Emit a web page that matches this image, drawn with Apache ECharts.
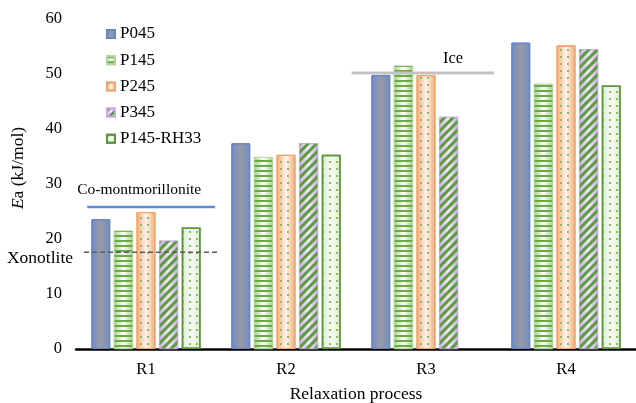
<!DOCTYPE html>
<html><head><meta charset="utf-8">
<script src="https://cdn.jsdelivr.net/npm/echarts@6/dist/echarts.min.js"></script>
<style>html,body{margin:0;padding:0;background:#fff}#c{width:636px;height:403px}</style>
</head><body><div id="c"></div>
<script>
// ---- data ----
const categories = ['R1', 'R2', 'R3', 'R4'];
const seriesNames = ['P045', 'P145', 'P245', 'P345', 'P145-RH33'];
const p045 = [23.6, 37.4, 49.8, 55.7];
const p145 = [21.5, 34.9, 51.5, 48.2];
const p245 = [24.9, 35.3, 49.8, 55.2];
const p345 = [19.7, 37.4, 42.2, 54.5];
const p145rh33 = [22.1, 35.3, null, 47.9];
const yMin = 0, yMax = 60, yStep = 10;
// reference lines: value, start / end in category units (hidden value axis 0..4)
const refNames = ['Co-montmorillonite', 'Xonotlite', 'Ice'];
const refValues = [25.8, 17.6, 50.2];
const refFrom = [0.08, 0.057, 1.969];
const refTo = [0.993, 1.014, 2.986];

const FONT = '"Times New Roman", "Liberation Serif", serif';
function hGrad(edge, center) {
  return new echarts.graphic.LinearGradient(0, 0, 1, 0, [
    { offset: 0, color: edge }, { offset: 0.5, color: center }, { offset: 1, color: edge }]);
}
const styles = [
  { color: hGrad('#6f8cc6', '#9a9aa6'), borderColor: '#6485c6', borderWidth: 1 },
  { color: hGrad('#a9d08e', '#ffffff'), borderColor: '#b5d69f', borderWidth: 0.5,
    decal: { symbol: 'rect', symbolSize: 1, dashArrayX: [1, 0], dashArrayY: [2, 2.4], rotation: 0, color: '#6aab45' } },
  { color: hGrad('#f6a870', '#fff5ee'), borderColor: '#f5a46d', borderWidth: 1,
    decal: { symbol: 'rect', symbolSize: 1, dashArrayX: [1.3, 5], dashArrayY: [1.3, 5], rotation: 0, color: '#86bc62' } },
  { color: hGrad('#c7ace6', '#f1eaf8'), borderColor: '#c6aae6', borderWidth: 0.5,
    decal: { symbol: 'rect', symbolSize: 1, dashArrayX: [1, 0], dashArrayY: [2.2, 2.6], rotation: -Math.PI / 4, color: '#5e9c3c' } },
  { color: hGrad('#dcecd0', '#f7fbf4'), borderColor: '#5a9638', borderWidth: 1.5,
    decal: { symbol: 'rect', symbolSize: 1, dashArrayX: [1.3, 5], dashArrayY: [1.3, 5], rotation: 0, color: '#86bc62' } }
];
const values = [p045, p145, p245, p345, p145rh33];

const chart = echarts.init(document.getElementById('c'), null, { renderer: 'canvas' });
const series = seriesNames.map((n, i) => ({
  name: n, type: 'bar', xAxisIndex: 0, yAxisIndex: 0,
  data: values[i], itemStyle: styles[i],
  barGap: '20%', barCategoryGap: '22%', z: 2
}));
const refStyles = [
  { color: '#5b8ed8', width: 2.5, type: 'solid' },
  { color: '#5a5a5a', width: 1.5, type: [5, 3] },
  { color: '#c3c3c3', width: 3, type: 'solid' }
];
refNames.forEach((n, i) => {
  series.push({
    name: n, type: 'line', xAxisIndex: 1, yAxisIndex: 0, silent: true,
    showSymbol: false, symbol: 'none', z: 5,
    data: [[refFrom[i], refValues[i]], [refTo[i], refValues[i]]],
    lineStyle: refStyles[i]
  });
});

chart.setOption({
  animation: false,
  backgroundColor: '#fff',
  grid: { left: 76, right: 0, top: 19, bottom: 54, containLabel: false, outerBoundsMode: 'none' },
  legend: {
    data: seriesNames, orient: 'vertical', left: 101, top: 20.5,
    itemWidth: 8, itemHeight: 8, itemGap: 9.2, icon: 'rect',
    textStyle: { fontFamily: FONT, fontSize: 17, color: '#000', lineHeight: 17 }
  },
  xAxis: [{
    type: 'category', data: categories,
    axisLine: { lineStyle: { color: '#000', width: 2.5 } },
    axisTick: { show: false },
    axisLabel: { fontFamily: FONT, fontSize: 16.5, color: '#000', margin: 12.5 },
    name: 'Relaxation process', nameLocation: 'middle', nameGap: 36,
    nameTextStyle: { fontFamily: FONT, fontSize: 17.5, color: '#000' }
  }, {
    type: 'value', min: 0, max: 4, show: false
  }],
  yAxis: [{
    type: 'value', min: yMin, max: yMax, interval: yStep,
    axisLine: { show: false }, axisTick: { show: false }, splitLine: { show: false },
    axisLabel: { fontFamily: FONT, fontSize: 16.5, color: '#000', margin: 14 }
  }],
  series: series
});

// annotation texts, positioned from the reference lines via the axes
function px(x, y) { return chart.convertToPixel({ xAxisIndex: 1, yAxisIndex: 0 }, [x, y]); }
const a = px(refFrom[0], refValues[0]);
const b = px(refFrom[1], refValues[1]);
const c2 = px(refTo[2], refValues[2]);
chart.setOption({
  graphic: [
    { type: 'text', x: a[0] - 10, y: a[1] - 17, z: 10,
      style: { text: refNames[0], fontFamily: FONT, fontSize: 15.5, fill: '#000', align: 'left', verticalAlign: 'middle' } },
    { type: 'text', x: b[0] - 44, y: b[1] + 6, z: 10,
      style: { text: refNames[1], fontFamily: FONT, fontSize: 17.5, fill: '#000', align: 'center', verticalAlign: 'middle' } },
    { type: 'text', x: c2[0] - 41, y: c2[1] - 14, z: 10,
      style: { text: refNames[2], fontFamily: FONT, fontSize: 16.5, fill: '#000', align: 'center', verticalAlign: 'middle' } },
    { type: 'text', x: 18, y: 168, rotation: Math.PI / 2, z: 10,
      style: { text: '{i|E}a (kJ/mol)', fontFamily: FONT, fontSize: 17.5, fill: '#000', align: 'center', verticalAlign: 'middle',
        rich: { i: { fontStyle: 'italic', fontFamily: FONT, fontSize: 17.5, fill: '#000' } } } }
  ]
});
</script></body></html>
